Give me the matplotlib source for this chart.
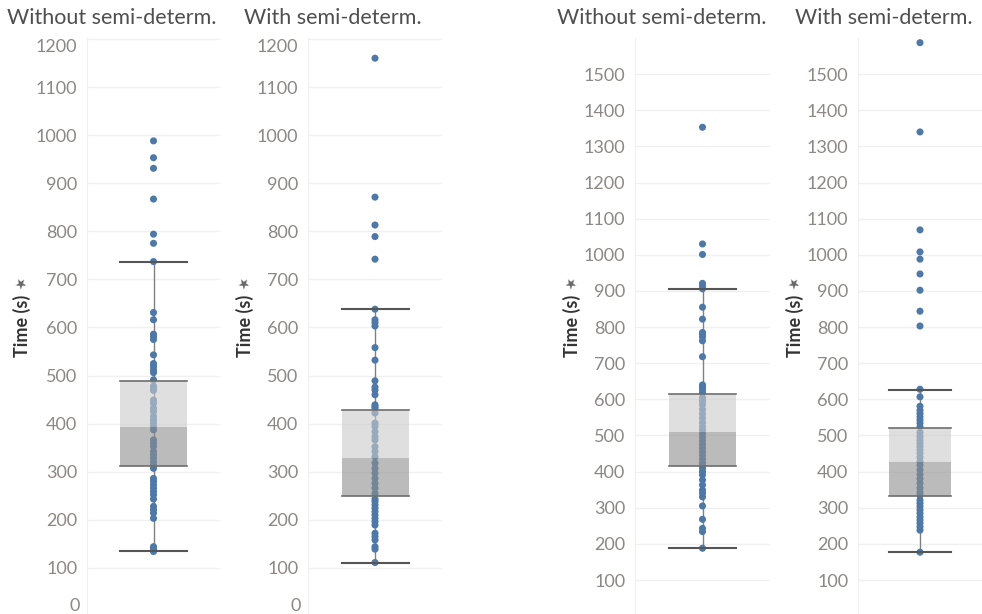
import matplotlib.pyplot as plt
import matplotlib.transforms as mtransforms

plt.rcParams['font.family'] = ['Lato', 'DejaVu Sans']

titles = ["Without semi-determ.", "With semi-determ.", "Without semi-determ.", "With semi-determ."]

# run times (s)
times_a_without = [988, 953, 931, 867, 794, 775, 737, 631, 616, 586, 581, 575, 543, 525, 519,
                   512, 506, 491, 478, 473, 469, 449, 442, 432, 425, 415, 408, 401, 394, 387,
                   366, 359, 352, 342, 335, 328, 321, 314, 307, 286, 280, 273, 266, 259, 252,
                   243, 228, 221, 214, 203, 144, 139, 134]
times_a_with = [1160, 871, 813, 789, 742, 638, 616, 610, 603, 558, 532, 489, 476, 470, 460,
                439, 435, 432, 422, 401, 394, 383, 373, 366, 352, 342, 331, 318, 307, 297,
                286, 276, 266, 255, 243, 238, 231, 224, 217, 210, 203, 196, 189, 172, 165,
                158, 144, 139, 111]
times_b_without = [1353, 1030, 1001, 921, 913, 906, 855, 822, 785, 780, 773, 762, 718, 640,
                   633, 626, 618, 605, 595, 585, 572, 560, 548, 536, 525, 515, 505, 495, 485,
                   475, 465, 455, 445, 435, 425, 418, 409, 400, 391, 377, 363, 349, 340, 330,
                   305, 268, 243, 234, 188]
times_b_with = [1587, 1340, 1069, 1008, 988, 947, 902, 844, 803, 628, 607, 581, 570, 561, 552,
                543, 534, 524, 508, 497, 487, 478, 469, 460, 451, 440, 428, 418, 405, 392,
                380, 368, 355, 343, 334, 321, 312, 303, 294, 285, 275, 266, 257, 247, 238, 177]
panel_times = [times_a_without, times_a_with, times_b_without, times_b_with]

# box plot figures: lower whisker, Q1, median, Q3, upper whisker
box_stats = [
    [134, 312, 393, 489, 737],
    [111, 250, 329, 428, 638],
    [188, 415, 510, 615, 906],
    [177, 332, 428, 520, 626],
]

y_limits = [(4, 1202), (4, 1202), (6, 1600), (6, 1600)]
y_ticks = [list(range(100, 1201, 100))] * 2 + [list(range(100, 1501, 100))] * 2

fig = plt.figure(figsize=(9.82, 6.14), dpi=100)
lefts = [87, 308, 635, 858]
widths = [133, 134, 135, 124]
title_x = [112, 333, 662, 884]
label_x = [22, 245, 572, 795]

point_color = '#4e79a7'
tick_color = '#8c8884'
for i in range(4):
    ax = fig.add_axes([lefts[i] / 982, 0, widths[i] / 982, 1 - 38 / 614])
    ax.set_xlim(0, 1)
    ax.set_ylim(*y_limits[i])
    ax.set_yticks(y_ticks[i])
    ax.set_xticks([])
    ax.grid(axis='y', color='#f0f0f0', lw=1)
    ax.set_axisbelow(True)
    for side in ['top', 'right', 'bottom']:
        ax.spines[side].set_visible(False)
    ax.spines['left'].set_color('#efefef')
    ax.tick_params(axis='y', length=0, pad=7, labelsize=13, labelcolor=tick_color)

    lo, q1, med, q3, hi = box_stats[i]
    ax.plot([0.5, 0.5], [lo, hi], color='#808080', lw=1, zorder=1)
    ax.scatter([0.5] * len(panel_times[i]), panel_times[i], s=26, color=point_color,
               edgecolors='none', zorder=2)
    ax.bar(0.5, q3 - med, bottom=med, width=0.5, color='#cbcbcb', alpha=0.6, zorder=3)
    ax.bar(0.5, med - q1, bottom=q1, width=0.5, color='#8e8e8e', alpha=0.6, zorder=3)
    for v in [q1, q3]:
        ax.plot([0.25, 0.75], [v, v], color='#6e6e6e', lw=1.2, zorder=4)
    for v in [lo, hi]:
        ax.plot([0.25, 0.75], [v, v], color='#555555', lw=1.5, zorder=4)

    labels = ax.get_yticklabels()
    if i < 2:
        labels[-1].set_verticalalignment('top')
        trans = mtransforms.blended_transform_factory(ax.transAxes, ax.transAxes)
        ax.text(-7 / widths[i], 0.0, '0', transform=trans, ha='right', va='bottom',
                fontsize=13, color=tick_color)

    fig.text(title_x[i] / 982, 1 - 18 / 614, titles[i], ha='center', va='center',
             fontsize=15.5, color='#4f4f4f')
    fig.text(label_x[i] / 982, 1 - 326 / 614, 'Time (s)', rotation=90, ha='center',
             va='center', fontsize=13, fontweight='bold', color='#333333')
    fig.text((label_x[i] - 1) / 982, 1 - 284 / 614, '★', rotation=35, ha='center',
             va='center', fontsize=10, color='#666666', family='DejaVu Sans')

fig.savefig('out.png', dpi=100)
